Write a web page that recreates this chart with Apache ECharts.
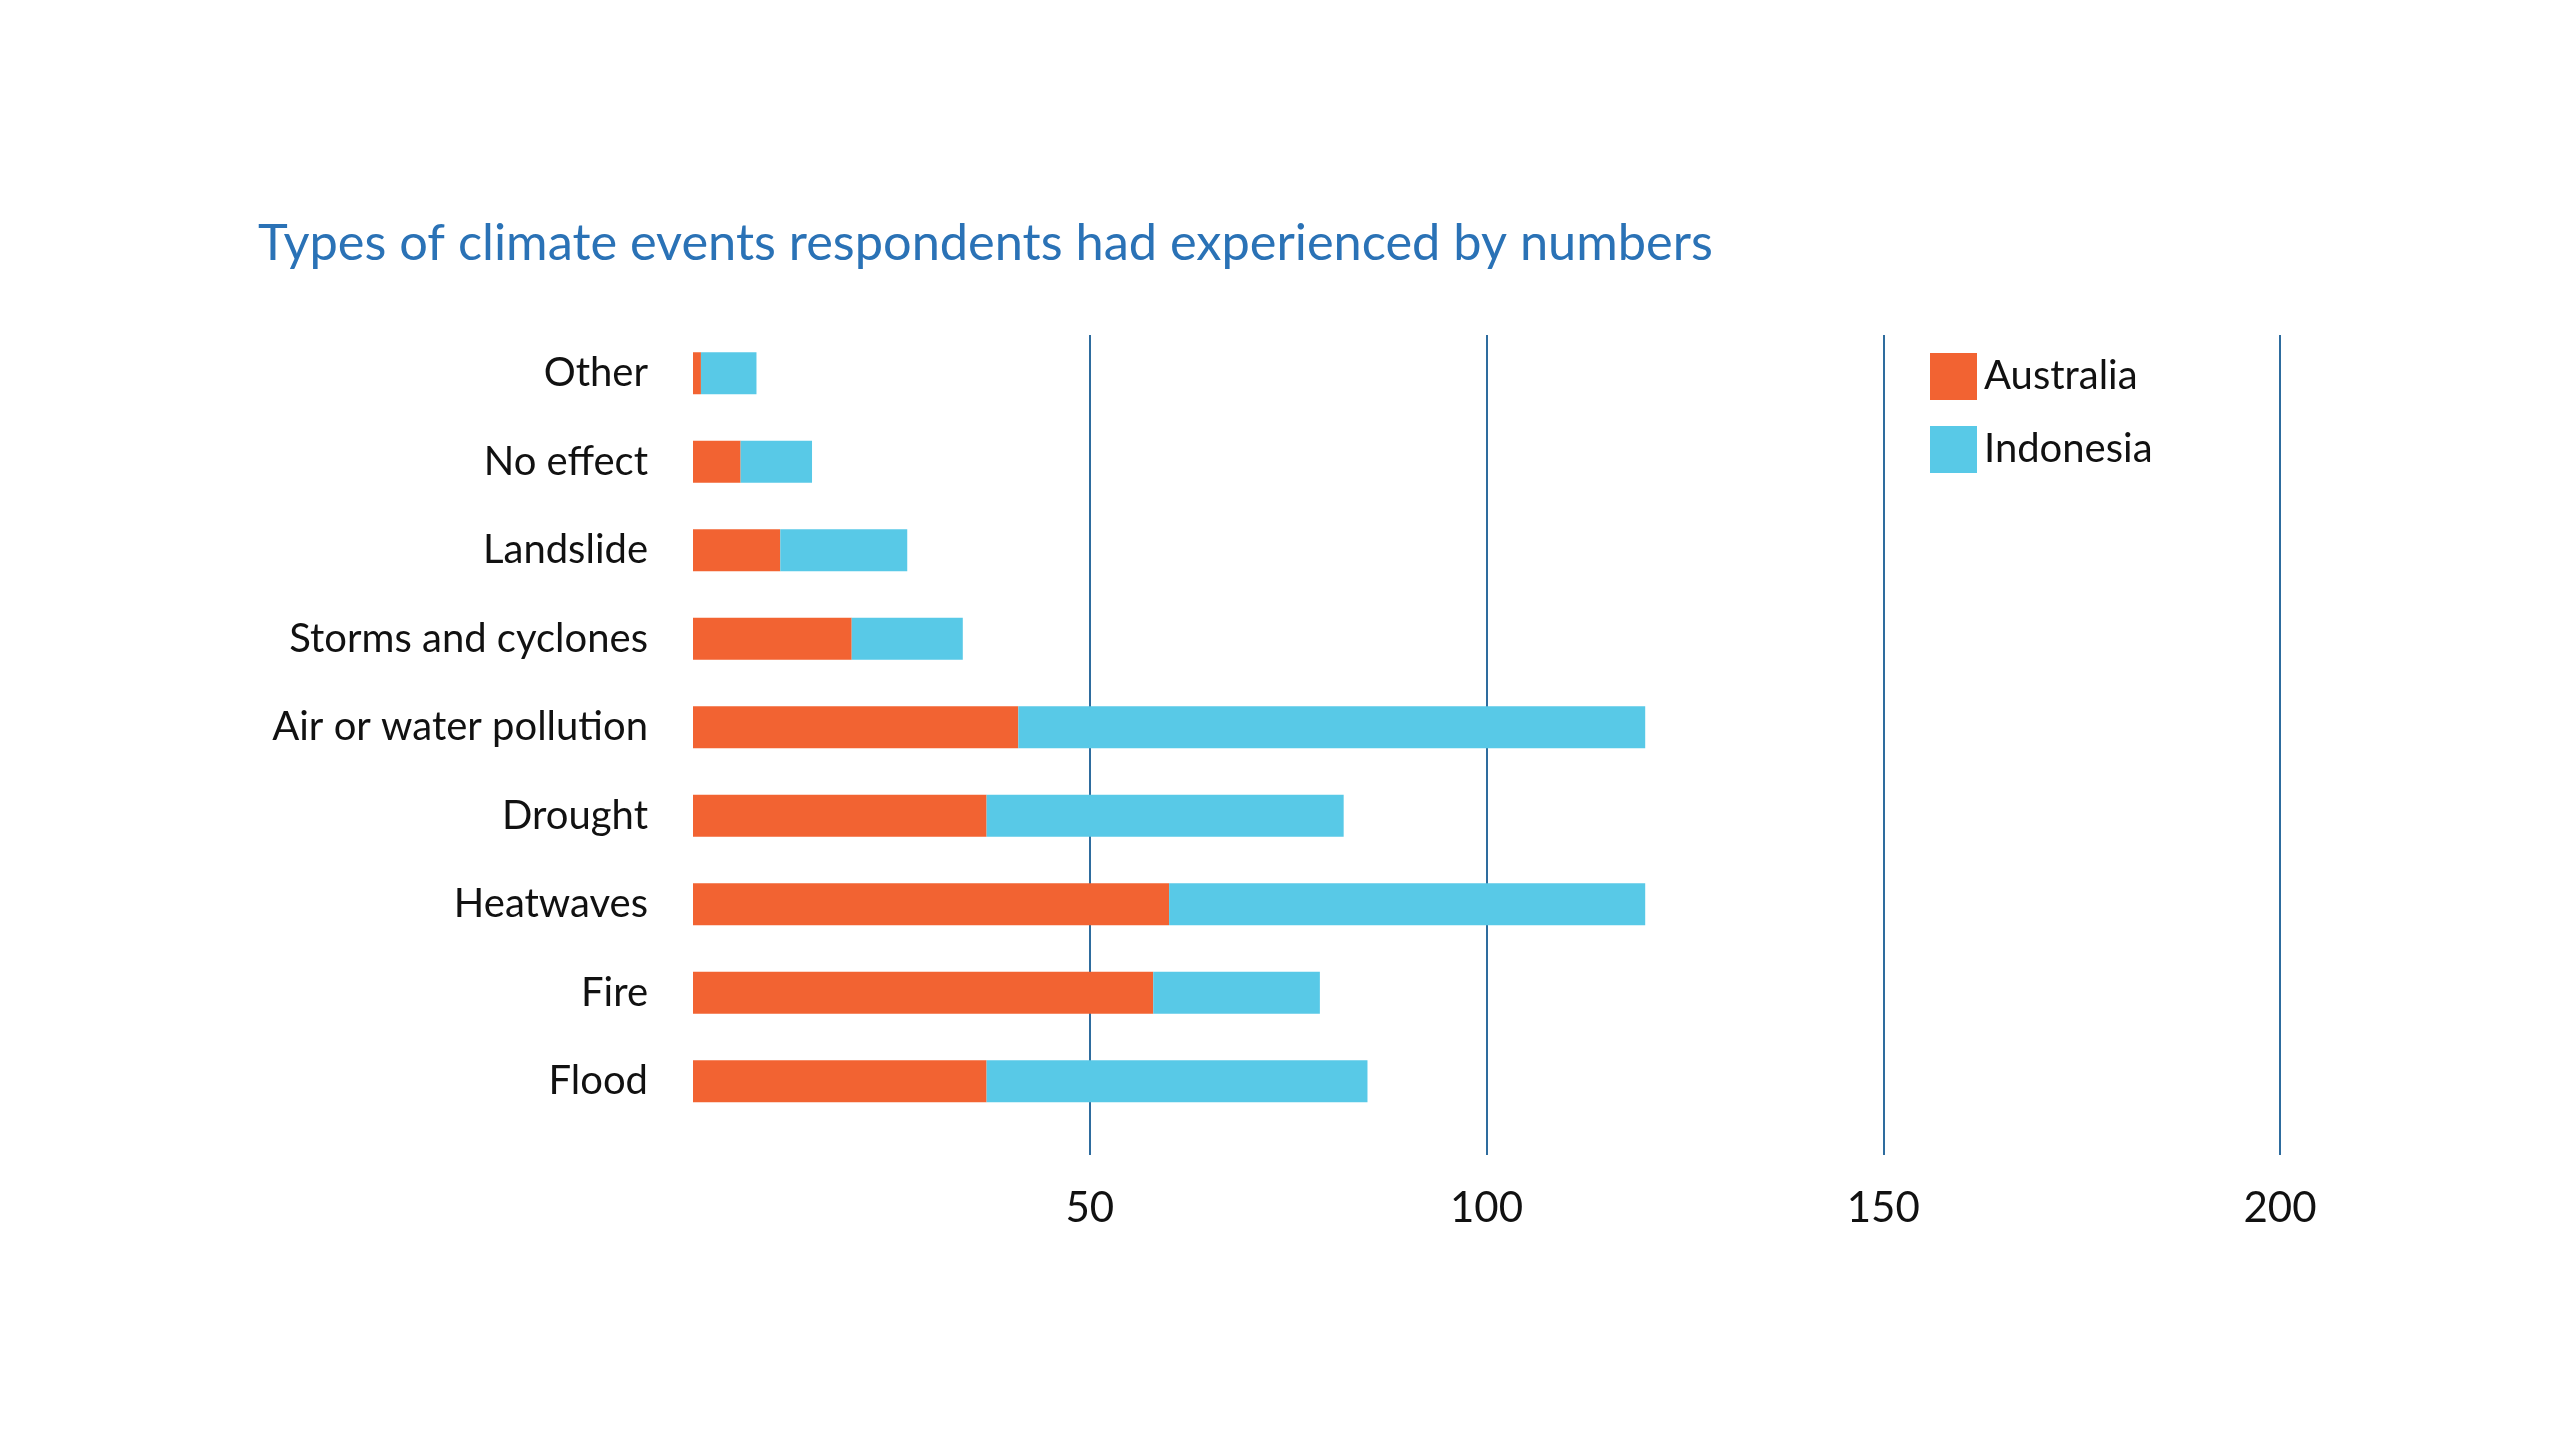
<!DOCTYPE html>
<html>
<head>
<meta charset="utf-8">
<script src="https://cdn.jsdelivr.net/npm/echarts@6/dist/echarts.min.js"></script>
<style>
html,body{margin:0;padding:0;background:#fff;}
#chart{width:2560px;height:1440px;}
</style>
</head>
<body>
<div id="chart"></div>
<script>
const categories = ['Other','No effect','Landslide','Storms and cyclones','Air or water pollution','Drought','Heatwaves','Fire','Flood'];
const australia = [1, 6, 11, 20, 41, 37, 60, 58, 37];
const indonesia = [7, 9, 16, 14, 79, 45, 60, 21, 48];
const xTicks = [50, 100, 150, 200];

const FONT = 'Lato';
const chart = echarts.init(document.getElementById('chart'));
chart.setOption({
  backgroundColor: '#ffffff',
  animation: false,
  title: {
    text: 'Types of climate events respondents had experienced by numbers',
    left: 253, top: 213,
    textStyle: {fontFamily: FONT, fontSize: 50.5, fontWeight: 'normal', color: '#2a72b6'}
  },
  legend: {
    orient: 'vertical', left: 1925, top: 348,
    itemWidth: 47, itemHeight: 47, itemGap: 26,
    icon: 'rect',
    textStyle: {fontFamily: FONT, fontSize: 40, color: '#111', padding: [0,0,0,2]},
    data: ['Australia','Indonesia']
  },
  grid: [
    {left: 693, right: 280, top: 329, height: 796.5},
    {left: 693, right: 280, top: 335, height: 820}
  ],
  xAxis: [
    {type: 'value', gridIndex: 0, min: 0, max: 200, interval: 50, show: false},
    {type: 'value', gridIndex: 1, min: 0, max: 200, interval: 50,
     axisLine: {show: false}, axisTick: {show: false},
     splitLine: {show: true, showMinLine: false, showMaxLine: true, lineStyle: {color: '#2e6c9e', width: 2}},
     axisLabel: {show: true, margin: 32, fontFamily: FONT, fontSize: 42, color: '#111',
       formatter: v => xTicks.indexOf(v) >= 0 ? String(v) : ''}}
  ],
  yAxis: [
    {type: 'category', gridIndex: 0, data: categories, inverse: true,
     axisLine: {show: false}, axisTick: {show: false}, splitLine: {show: false},
     axisLabel: {margin: 45, fontFamily: FONT, fontSize: 40, color: '#111'}},
    {type: 'value', gridIndex: 1, min: 0, max: 1, show: false}
  ],
  series: [
    {name: 'Australia', type: 'bar', stack: 'total', xAxisIndex: 0, yAxisIndex: 0,
     barWidth: 42, itemStyle: {color: '#f26332'}, data: australia},
    {name: 'Indonesia', type: 'bar', stack: 'total', xAxisIndex: 0, yAxisIndex: 0,
     barWidth: 42, itemStyle: {color: '#58c9e7'}, data: indonesia}
  ]
});
</script>
</body>
</html>
